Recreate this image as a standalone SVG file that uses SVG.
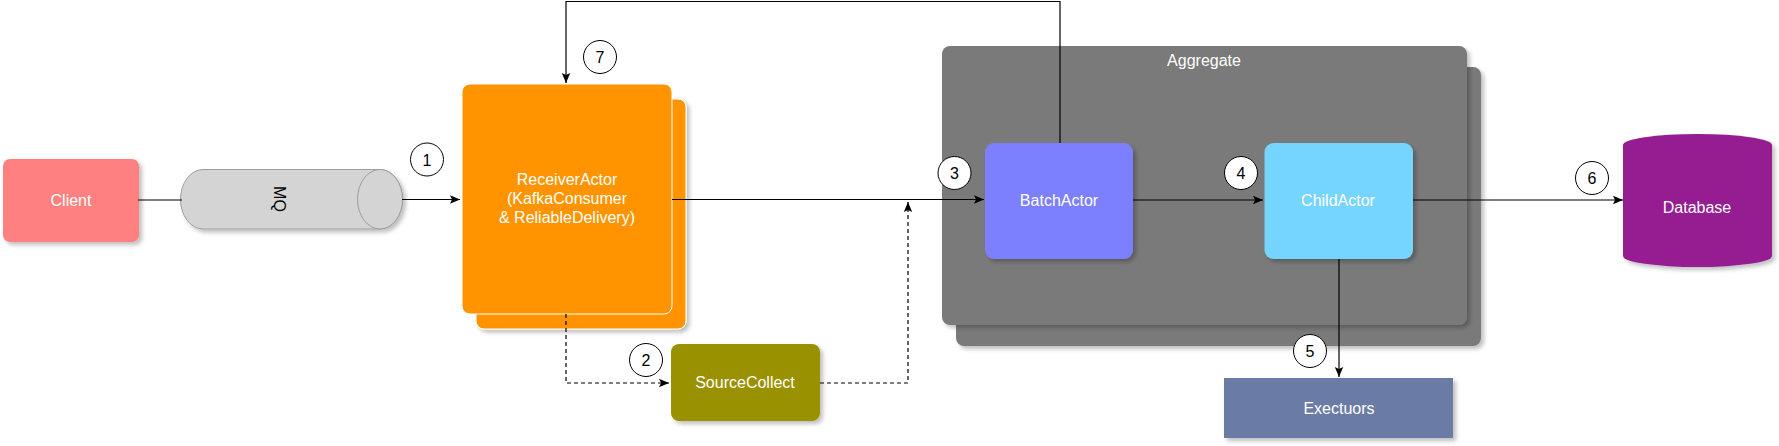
<svg xmlns="http://www.w3.org/2000/svg" width="1779" height="446" viewBox="0 0 1779 446">
<defs>
<style>
.lbl{font-family:"Liberation Sans",Arial,sans-serif;font-size:16px;fill:#FFFFFF;text-anchor:middle;dominant-baseline:central}
.num{font-family:"Liberation Sans",Arial,sans-serif;font-size:16px;fill:#000000;text-anchor:middle;dominant-baseline:central}
.circ{fill:#FFFFFF;stroke:#000000;stroke-width:1}
.edge{fill:none;stroke:#000000;stroke-width:1.2}
.dash{fill:none;stroke:#000000;stroke-width:1.2;stroke-dasharray:4 3}
</style>
<filter id="sh" x="-20%" y="-20%" width="140%" height="140%">
<feDropShadow dx="3" dy="3" stdDeviation="2" flood-color="#000000" flood-opacity="0.25"/>
</filter>
<marker id="arr" markerUnits="userSpaceOnUse" markerWidth="12" markerHeight="10" refX="10" refY="5" orient="auto">
<path d="M0,0.8 L10,5 L0,9.2 L2,5 Z" fill="#000000"/>
</marker>
</defs>

<g id="client">
<rect x="3" y="159" width="136" height="83" rx="7" fill="#FF8080" filter="url(#sh)"/>
<text class="lbl" x="71" y="200">Client</text>
</g>

<g id="mq">
<path d="M203,169.5 H380 A22.5,29.75 0 0 1 380,229 H203 A22.5,29.75 0 0 1 203,169.5 Z" fill="#D4D4D4" stroke="#9E9E9E" stroke-width="1" filter="url(#sh)"/>
<ellipse cx="380" cy="199.25" rx="22.5" ry="29.75" fill="#D4D4D4" stroke="#9E9E9E" stroke-width="1"/>
<text class="num" x="279" y="199" transform="rotate(90 279 199)">MQ</text>
</g>

<g id="receiver">
<rect x="476" y="99" width="210" height="230" rx="8" fill="#FF9400" stroke="#FFFFFF" stroke-width="1" filter="url(#sh)"/>
<rect x="462" y="84" width="210" height="230" rx="8" fill="#FF9400" stroke="#FFFFFF" stroke-width="1"/>
<text class="lbl" x="567" y="179">ReceiverActor</text>
<text class="lbl" x="567" y="198.5">(KafkaConsumer</text>
<text class="lbl" x="567" y="217">&amp; ReliableDelivery)</text>
</g>

<g id="sourcecollect">
<rect x="671" y="344" width="149" height="77" rx="8" fill="#999100" filter="url(#sh)"/>
<text class="lbl" x="745" y="382">SourceCollect</text>
</g>

<g id="aggregate">
<rect x="956" y="67" width="525" height="279" rx="8" fill="#7A7A7A" filter="url(#sh)"/>
<rect x="942" y="46" width="525" height="279" rx="8" fill="#7A7A7A" filter="url(#sh)"/>
<text class="lbl" x="1204" y="60">Aggregate</text>
</g>

<g id="batchactor">
<rect x="985" y="143" width="148" height="116" rx="9" fill="#7C80FF" filter="url(#sh)"/>
<text class="lbl" x="1059" y="200">BatchActor</text>
</g>

<g id="childactor">
<rect x="1264.5" y="143" width="148.5" height="116" rx="9" fill="#75D5FF" filter="url(#sh)"/>
<text class="lbl" x="1338" y="200">ChildActor</text>
</g>

<g id="database">
<path d="M1623,145 A74.5,11 0 0 1 1772,145 V256 A74.5,11 0 0 1 1623,256 Z" fill="#951F91" filter="url(#sh)"/>
<text class="lbl" x="1697" y="207">Database</text>
</g>

<g id="exectuors">
<rect x="1224" y="378" width="229" height="60" fill="#6A7CA5" filter="url(#sh)"/>
<text class="lbl" x="1339" y="408">Exectuors</text>
</g>

<g id="connectors">
<path class="edge" d="M138,200 H182"/>
<path class="edge" d="M402,199.5 H460" marker-end="url(#arr)"/>
<path class="edge" d="M1060,143 V1.5 H566 V83" marker-end="url(#arr)"/>
<path class="edge" d="M672,199.5 H984" marker-end="url(#arr)"/>
<path class="dash" d="M566,314 V383 H669" marker-end="url(#arr)"/>
<path class="dash" d="M820,383 H908 V202" marker-end="url(#arr)"/>
<path class="edge" d="M1133,200 H1263" marker-end="url(#arr)"/>
<path class="edge" d="M1413,200 H1623" marker-end="url(#arr)"/>
<path class="edge" d="M1339,259 V377" marker-end="url(#arr)"/>
</g>

<g id="badges">
<circle class="circ" cx="427" cy="159.5" r="16.5"/><text class="num" x="427" y="160">1</text>
<circle class="circ" cx="646" cy="360" r="16.5"/><text class="num" x="646" y="360.5">2</text>
<circle class="circ" cx="954.5" cy="173" r="16.5"/><text class="num" x="954.5" y="173.5">3</text>
<circle class="circ" cx="1241" cy="173" r="16.5"/><text class="num" x="1241" y="173.5">4</text>
<circle class="circ" cx="1310" cy="351" r="16.5"/><text class="num" x="1310" y="351.5">5</text>
<circle class="circ" cx="1592" cy="178" r="16.5"/><text class="num" x="1592" y="178.5">6</text>
<circle class="circ" cx="600" cy="57" r="16.5"/><text class="num" x="600" y="57.5">7</text>
</g>
</svg>
